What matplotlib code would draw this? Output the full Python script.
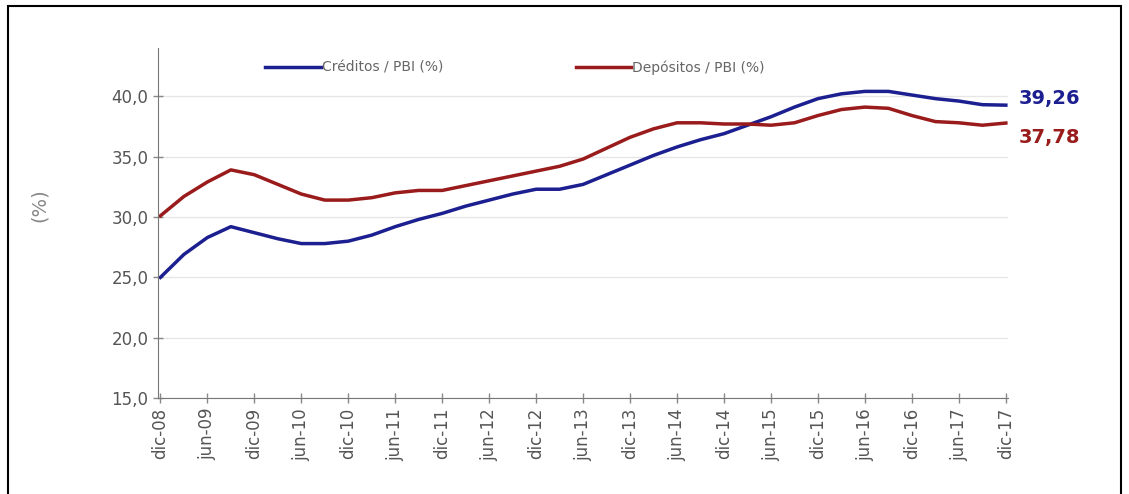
import matplotlib.pyplot as plt
from matplotlib.patches import Rectangle

plt.rcParams['font.family'] = ['DejaVu Sans']

tick_labels = ['dic-08', 'jun-09', 'dic-09', 'jun-10', 'dic-10', 'jun-11', 'dic-11',
               'jun-12', 'dic-12', 'jun-13', 'dic-13', 'jun-14', 'dic-14', 'jun-15',
               'dic-15', 'jun-16', 'dic-16', 'jun-17', 'dic-17']

# trimestral, dic-08 .. dic-17
creditos = [25.0, 26.9, 28.3, 29.2, 28.7, 28.2, 27.8, 27.8, 28.0, 28.5,
            29.2, 29.8, 30.3, 30.9, 31.4, 31.9, 32.3, 32.3, 32.7, 33.5,
            34.3, 35.1, 35.8, 36.4, 36.9, 37.6, 38.3, 39.1, 39.8, 40.2,
            40.4, 40.4, 40.1, 39.8, 39.6, 39.3, 39.26]
depositos = [30.1, 31.7, 32.9, 33.9, 33.5, 32.7, 31.9, 31.4, 31.4, 31.6,
             32.0, 32.2, 32.2, 32.6, 33.0, 33.4, 33.8, 34.2, 34.8, 35.7,
             36.6, 37.3, 37.8, 37.8, 37.7, 37.7, 37.6, 37.8, 38.4, 38.9,
             39.1, 39.0, 38.4, 37.9, 37.8, 37.6, 37.78]

azul = '#1c1f8f'
rojo = '#9a1b1b'
gris = '#555555'

fig = plt.figure(figsize=(11.29, 4.94), dpi=100)
ax = fig.add_axes([0.140, 0.194, 0.753, 0.709])

x = list(range(len(creditos)))
ax.plot(x, creditos, color=azul, lw=2.5, label='Créditos / PBI (%)')
ax.plot(x, depositos, color=rojo, lw=2.5, label='Depósitos / PBI (%)')

ax.set_xlim(-0.1, 36.1)
ax.set_ylim(15, 44.0)
ax.set_yticks([15, 20, 25, 30, 35, 40])
ax.set_yticklabels(['15,0', '20,0', '25,0', '30,0', '35,0', '40,0'],
                   fontsize=12, color=gris)
ax.set_xticks(range(0, 37, 2))
ax.set_xticklabels(tick_labels, rotation=90, fontsize=12, color=gris,
                   family=['Liberation Sans Narrow', 'DejaVu Sans'])
ax.tick_params(axis='both', direction='inout', length=7, color='#888888', width=1)
ax.grid(axis='y', color='#e6e6e6', lw=1)
ax.set_axisbelow(True)
for s in ['top', 'right']:
    ax.spines[s].set_visible(False)
for s in ['left', 'bottom']:
    ax.spines[s].set_color('#777777')

ax.set_ylabel('(%)', fontsize=14, color='#888888')
ax.yaxis.set_label_coords(-0.128, 0.55)

ax.text(36.55, creditos[-1] + 0.55, '39,26', color=azul, fontsize=14, fontweight='bold',
        va='center', ha='left')
ax.text(36.55, depositos[-1] - 1.2, '37,78', color=rojo, fontsize=14, fontweight='bold',
        va='center', ha='left')

ax.legend(loc='upper center', bbox_to_anchor=(0.42, 1.0), ncol=2, frameon=False,
          fontsize=10, handlelength=4, handletextpad=0.1, columnspacing=9.5,
          labelcolor='#666666')

fig.patches.append(Rectangle((0.007, -0.01), 0.986, 0.997, transform=fig.transFigure,
                             fill=False, edgecolor='black', lw=1.5))

fig.savefig('out.png', dpi=100)
